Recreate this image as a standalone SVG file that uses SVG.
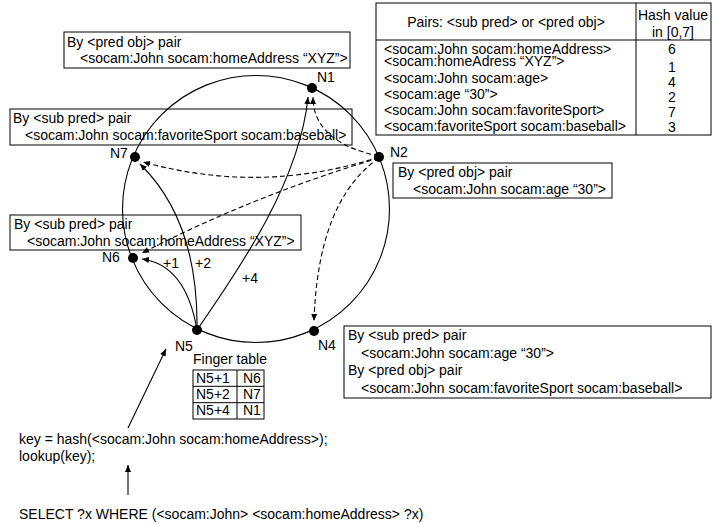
<svg xmlns="http://www.w3.org/2000/svg" width="715" height="523" viewBox="0 0 715 523">
<defs>
<style>
text{font-family:"Liberation Sans",Arial,sans-serif;font-size:14px;fill:#000}
.box{fill:none;stroke:#000;stroke-width:1}
.ring{fill:none;stroke:#000;stroke-width:1.1}
.sol{fill:none;stroke:#000;stroke-width:1.1}
.dash{fill:none;stroke:#000;stroke-width:1.1;stroke-dasharray:5,3}
.dot{fill:#000}
.mid{text-anchor:middle}
</style>
<marker id="ah" markerWidth="8" markerHeight="8" refX="7" refY="4" orient="auto" markerUnits="userSpaceOnUse">
<path d="M0,1 L7,4 L0,7 z" fill="#000"/>
</marker>
</defs>
<rect width="715" height="523" fill="#fff"/>

<g id="ring"><circle class="ring" cx="256" cy="209" r="133.5"/></g>

<g id="connectors">
<path class="sol" d="M197,330 Q186,265 142,259" marker-end="url(#ah)"/>
<path class="sol" d="M197,330 C198,262 182,205 140,164" marker-end="url(#ah)"/>
<path class="sol" d="M197,330 C242,265 300,180 308,97" marker-end="url(#ah)"/>
<path class="dash" d="M379,156 C340,148 313,130 313,97" marker-end="url(#ah)"/>
<path class="dash" d="M379,157 Q262,195 143,162" marker-end="url(#ah)"/>
<path class="dash" d="M379,158 Q255,195 142,253" marker-end="url(#ah)"/>
<path class="dash" d="M379,158 Q318,200 314,321" marker-end="url(#ah)"/>
<path class="sol" d="M128,428 L166,349" marker-end="url(#ah)"/>
<path class="sol" d="M128,495 L128,465" marker-end="url(#ah)"/>
</g>

<g id="N1"><circle class="dot" cx="312" cy="88" r="5"/><text x="317" y="82">N1</text></g>
<g id="N2"><circle class="dot" cx="379" cy="157" r="5"/><text x="390" y="157">N2</text></g>
<g id="N4"><circle class="dot" cx="314" cy="331" r="5"/><text x="318" y="350">N4</text></g>
<g id="N5"><circle class="dot" cx="197" cy="330" r="5"/><text x="175" y="351">N5</text></g>
<g id="N6"><circle class="dot" cx="133" cy="258" r="5"/><text x="102" y="262">N6</text></g>
<g id="N7"><circle class="dot" cx="135" cy="157" r="5"/><text x="110" y="158">N7</text></g>

<g id="labels">
<text x="163" y="268">+1</text>
<text x="195" y="268">+2</text>
<text x="242" y="283">+4</text>
</g>

<g id="box-n1">
<rect class="box" x="64" y="32" width="286" height="36"/>
<text x="67" y="47">By &lt;pred obj&gt; pair</text>
<text x="80" y="63">&lt;socam:John socam:homeAddress “XYZ”&gt;</text>
</g>

<g id="box-n7">
<rect class="box" x="10" y="109" width="342" height="36"/>
<text x="13" y="123">By &lt;sub pred&gt; pair</text>
<text x="25" y="140">&lt;socam:John socam:favoriteSport socam:baseball&gt;</text>
</g>

<g id="box-n2">
<rect class="box" x="393" y="163" width="219" height="35"/>
<text x="398" y="177">By &lt;pred obj&gt; pair</text>
<text x="413" y="194">&lt;socam:John socam:age “30”&gt;</text>
</g>

<g id="box-n6">
<rect class="box" x="10" y="215" width="291" height="35"/>
<text x="14" y="229">By &lt;sub pred&gt; pair</text>
<text x="27" y="246">&lt;socam:John socam:homeAddress “XYZ”&gt;</text>
</g>

<g id="box-n4">
<rect class="box" x="344" y="326" width="367" height="72"/>
<text x="348" y="340">By &lt;sub pred&gt; pair</text>
<text x="361" y="358">&lt;socam:John socam:age “30”&gt;</text>
<text x="348" y="375">By &lt;pred obj&gt; pair</text>
<text x="361" y="393">&lt;socam:John socam:favoriteSport socam:baseball&gt;</text>
</g>

<g id="hash-table">
<rect class="box" x="376" y="3" width="335" height="132"/>
<line x1="376" y1="40" x2="711" y2="40" stroke="#000"/>
<line x1="636" y1="3" x2="636" y2="135" stroke="#000"/>
<text class="mid" x="506" y="27">Pairs: &lt;sub pred&gt; or &lt;pred obj&gt;</text>
<text class="mid" x="673" y="20">Hash value</text>
<text class="mid" x="673" y="37">in [0,7]</text>
<text x="384" y="54">&lt;socam:John socam:homeAddress&gt;</text>
<text x="384" y="66">&lt;socam:homeAdress “XYZ”&gt;</text>
<text x="384" y="83">&lt;socam:John socam:age&gt;</text>
<text x="384" y="99">&lt;socam:age “30”&gt;</text>
<text x="384" y="115">&lt;socam:John socam:favoriteSport&gt;</text>
<text x="384" y="131">&lt;socam:favoriteSport socam:baseball&gt;</text>
<text class="mid" x="672" y="54">6</text>
<text class="mid" x="672" y="72">1</text>
<text class="mid" x="672" y="87">4</text>
<text class="mid" x="672" y="102">2</text>
<text class="mid" x="672" y="117">7</text>
<text class="mid" x="672" y="132">3</text>
</g>

<g id="finger-table">
<text x="193" y="364">Finger table</text>
<rect class="box" x="193" y="370" width="71" height="49"/>
<line x1="193" y1="386.3" x2="264" y2="386.3" stroke="#000"/>
<line x1="193" y1="402.7" x2="264" y2="402.7" stroke="#000"/>
<line x1="237" y1="370" x2="237" y2="419" stroke="#000"/>
<text x="196" y="383">N5+1</text><text x="243" y="383">N6</text>
<text x="196" y="399">N5+2</text><text x="243" y="399">N7</text>
<text x="196" y="415">N5+4</text><text x="243" y="415">N1</text>
</g>

<g id="query">
<text x="19" y="444">key = hash(&lt;socam:John socam:homeAddress&gt;);</text>
<text x="19" y="461">lookup(key);</text>
<text x="19" y="519">SELECT ?x WHERE (&lt;socam:John&gt; &lt;socam:homeAddress&gt; ?x)</text>
</g>
</svg>
